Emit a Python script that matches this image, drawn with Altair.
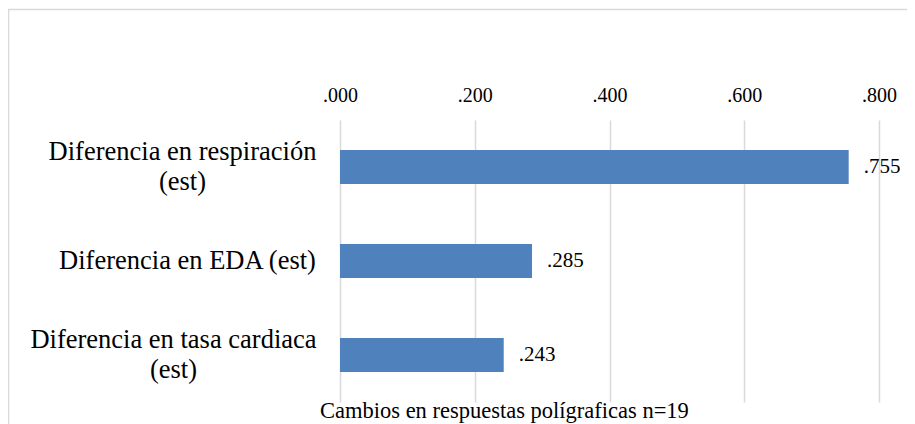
import altair as alt
import pandas as pd

categories = ["Diferencia en respiración (est)", "Diferencia en EDA (est)", "Diferencia en tasa cardiaca (est)"]
label_lines = ["Diferencia en respiración|(est)", "Diferencia en EDA (est)", "Diferencia en tasa cardiaca|(est)"]
values = [0.755, 0.285, 0.243]
x_ticks = [0.0, 0.2, 0.4, 0.6, 0.8]
title_text = "Cambios en respuestas polígraficas n=19"

df = pd.DataFrame({"cat": label_lines, "value": values})

FONT = "Liberation Serif"

y_enc = alt.Y(
    "cat:N",
    sort=label_lines,
    scale=alt.Scale(paddingInner=0.64, paddingOuter=0.32),
    axis=alt.Axis(
        title=None,
        domain=False,
        ticks=False,
        grid=False,
        labelExpr="split(datum.label, '|')",
        labelFont=FONT,
        labelFontSize=26.5,
        labelColor="black",
        labelAlign="center",
        labelLineHeight=30,
        labelLimit=400,
        labelOffset={
            "condition": {"test": "indexof(datum.value, '|') >= 0", "value": -15},
            "value": 0,
        },
        labelPadding={
            "condition": [
                {"test": "datum.value === 'Diferencia en respiración|(est)'", "value": 158},
                {"test": "datum.value === 'Diferencia en EDA (est)'", "value": 153},
            ],
            "value": 167,
        },
    ),
)

x_enc = alt.X(
    "value:Q",
    scale=alt.Scale(domain=[0, 0.8], nice=False),
    axis=alt.Axis(
        orient="top",
        title=None,
        values=x_ticks,
        domain=False,
        ticks=False,
        grid=True,
        gridColor="#d9d9d9",
        gridWidth=1.5,
        labelExpr="replace(format(datum.value, '.3f'), '0.', '.')",
        labelFont=FONT,
        labelFontSize=20,
        labelColor="black",
        labelPadding=15,
        labelFlush=False,
    ),
)

bars = alt.Chart(df).mark_bar(color="#4F81BD").encode(x=x_enc, y=y_enc)

text = (
    alt.Chart(df)
    .transform_calculate(lbl="replace(format(datum.value, '.3f'), '0.', '.')")
    .mark_text(align="left", baseline="middle", dx=15, font=FONT, fontSize=21, color="black")
    .encode(x="value:Q", y=alt.Y("cat:N", sort=label_lines), text="lbl:N")
)

box = (
    alt.Chart(pd.DataFrame({"k": [0]}))
    .mark_rect(fill=None, stroke="#d9d9d9", strokeWidth=1.5)
    .encode(x=alt.value(-331.5), x2=alt.value(700), y=alt.value(-110.5), y2=alt.value(400))
)

title = (
    alt.Chart(pd.DataFrame({"t": [title_text]}))
    .mark_text(align="left", baseline="alphabetic", font=FONT, fontSize=22.5, color="black")
    .encode(x=alt.value(-20), y=alt.value(298), text="t:N")
)

chart = (
    alt.layer(box, bars, text, title)
    .properties(
        width=539,
        height=282,
        background="white",
        autosize=alt.AutoSizeParams(type="none"),
        padding={"left": 332, "top": 112, "right": 28, "bottom": 22},
    )
    .configure_view(strokeWidth=0, stroke="transparent")
    .configure_axis(domain=False)
)

chart.save("out.html", embed_options={"renderer": "svg", "actions": False})
